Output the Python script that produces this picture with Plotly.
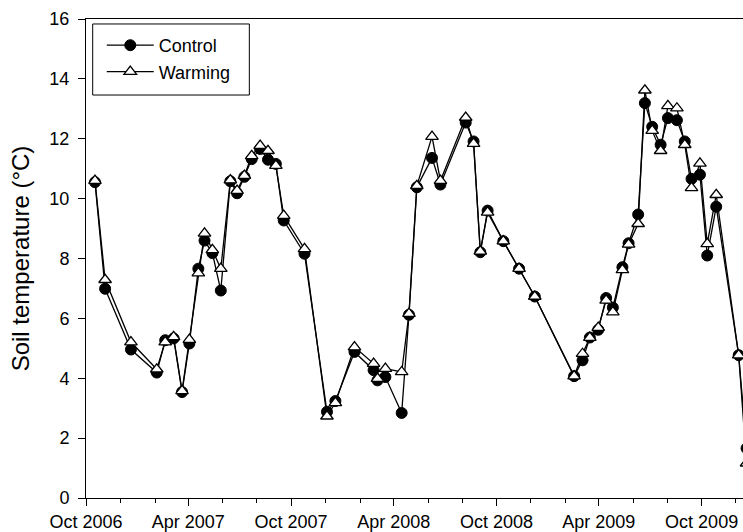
import plotly.graph_objects as go

dates = ["2006-10-17", "2006-11-04", "2006-12-20", "2007-02-04", "2007-02-19", "2007-03-06",
         "2007-03-21", "2007-04-03", "2007-04-19", "2007-04-30", "2007-05-14", "2007-05-29",
         "2007-06-15", "2007-06-27", "2007-07-10", "2007-07-23", "2007-08-07", "2007-08-21",
         "2007-09-04", "2007-09-18", "2007-10-25", "2007-12-04", "2007-12-19", "2008-01-22",
         "2008-02-25", "2008-03-03", "2008-03-17", "2008-04-15", "2008-04-28", "2008-05-12",
         "2008-06-08", "2008-06-23", "2008-08-07", "2008-08-21", "2008-09-02", "2008-09-15",
         "2008-10-13", "2008-11-10", "2008-12-08", "2009-02-16", "2009-03-03", "2009-03-16",
         "2009-03-31", "2009-04-14", "2009-04-26", "2009-05-13", "2009-05-24", "2009-06-10",
         "2009-06-22", "2009-07-05", "2009-07-20", "2009-08-02", "2009-08-18", "2009-09-01",
         "2009-09-13", "2009-09-28", "2009-10-11", "2009-10-27", "2009-12-06", "2009-12-20"]

control = [10.55, 6.99, 4.96, 4.19, 5.27, 5.33, 3.54, 5.16, 7.66, 8.60, 8.18, 6.93,
           10.58, 10.18, 10.73, 11.32, 11.66, 11.30, 11.16, 9.27, 8.16, 2.88, 3.24, 4.88,
           4.27, 3.93, 4.04, 2.84, 6.12, 10.38, 11.36, 10.47, 12.54, 11.91, 8.21, 9.60,
           8.58, 7.66, 6.73, 4.07, 4.60, 5.36, 5.62, 6.68, 6.36, 7.71, 8.51, 9.47,
           13.19, 12.40, 11.80, 12.69, 12.62, 11.91, 10.66, 10.80, 8.10, 9.73, 4.77, 1.66]

warming = [10.60, 7.29, 5.21, 4.30, 5.21, 5.38, 3.58, 5.29, 7.51, 8.84, 8.29, 7.66,
           10.62, 10.27, 10.77, 11.43, 11.77, 11.60, 11.10, 9.43, 8.32, 2.73, 3.18, 5.04,
           4.49, 3.99, 4.32, 4.21, 6.16, 10.43, 12.07, 10.60, 12.71, 11.84, 8.24, 9.54,
           8.58, 7.66, 6.73, 4.07, 4.82, 5.36, 5.69, 6.60, 6.21, 7.62, 8.47, 9.16,
           13.62, 12.27, 11.60, 13.10, 13.02, 11.80, 10.36, 11.18, 8.49, 10.13, 4.77, 1.16]

y_ticks = [0, 2, 4, 6, 8, 10, 12, 14, 16]
x_range = ["2006-10-01", "2009-12-13 16:00"]

FONT = "Liberation Sans, Arial, Helvetica, sans-serif"

fig = go.Figure()
fig.add_trace(go.Scatter(
    x=dates, y=control, name="Control", mode="lines+markers",
    line=dict(color="black", width=1.3),
    marker=dict(symbol="circle", size=11, color="black", line=dict(color="black", width=1)),
    cliponaxis=True,
))
fig.add_trace(go.Scatter(
    x=dates, y=warming, name="Warming", mode="lines+markers",
    line=dict(color="black", width=1.3),
    marker=dict(symbol="triangle-up", size=11, color="white", line=dict(color="black", width=1.3)),
    cliponaxis=True,
))

# legend frame (paper coordinates)
fig.add_shape(type="rect", xref="paper", yref="paper",
              x0=0.0102, x1=0.2486, y0=0.8413, y1=0.9896,
              line=dict(color="black", width=1), fillcolor="rgba(0,0,0,0)", layer="above")

fig.update_layout(
    width=743, height=532,
    margin=dict(l=86, r=0, t=19, b=34),
    paper_bgcolor="white", plot_bgcolor="white",
    font=dict(family=FONT, size=18, color="black"),
    showlegend=True,
    legend=dict(
        x=0.0240, y=0.9833, xanchor="left", yanchor="top",
        borderwidth=0, bgcolor="rgba(0,0,0,0)",
        font=dict(size=18), itemwidth=47, tracegroupgap=0,
    ),
)
fig.update_xaxes(
    type="date", range=x_range,
    showgrid=False, zeroline=False,
    showline=True, linecolor="black", linewidth=1, mirror=True,
    ticks="outside", ticklen=7, tickwidth=1, tickcolor="black",
    tick0="2006-10-01", dtick="M6", tickformat="%b %Y",
    tickfont=dict(size=18),
    minor=dict(ticks="outside", ticklen=4, tickwidth=1, tickcolor="black",
               dtick="M2", tick0="2006-10-01", showgrid=False),
)
fig.update_yaxes(
    range=[0, 16], tickvals=y_ticks,
    showgrid=False, zeroline=False,
    showline=True, linecolor="black", linewidth=1, mirror=False,
    ticks="outside", ticklen=7, tickwidth=1, tickcolor="black",
    tickfont=dict(size=18), ticklabelstandoff=5,
    title=dict(text="Soil temperature (°C)", font=dict(size=24), standoff=12),
)

fig.write_html("out.html")
